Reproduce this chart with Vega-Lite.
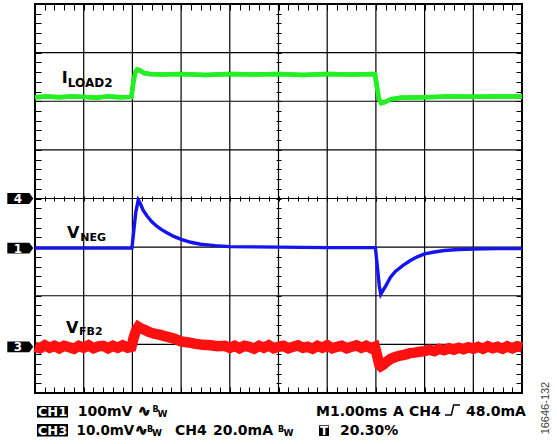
{
  "$schema": "https://vega.github.io/schema/vega-lite/v6.json",
  "width": 487,
  "height": 389,
  "autosize": {"type": "none"},
  "padding": {"left": 35, "top": 4, "right": 35, "bottom": 51},
  "background": "white",
  "config": {
    "view": {"stroke": "#000", "strokeWidth": 2},
    "text": {"font": "DejaVu Sans", "fontWeight": "bold", "color": "#000"},
    "rule": {"color": "#000", "strokeWidth": 1.2},
    "axis": {"title": null}
  },
  "datasets": {
    "iload": [
      {"t": 0, "v": 6.08}, {"t": 0.25, "v": 6.1}, {"t": 0.5, "v": 6.08}, {"t": 0.75, "v": 6.1}, {"t": 1, "v": 6.09},
      {"t": 1.25, "v": 6.07}, {"t": 1.5, "v": 6.1}, {"t": 1.75, "v": 6.08}, {"t": 1.98, "v": 6.09}, {"t": 2.02, "v": 6.4},
      {"t": 2.06, "v": 6.6}, {"t": 2.1, "v": 6.65}, {"t": 2.16, "v": 6.63}, {"t": 2.24, "v": 6.58}, {"t": 2.35, "v": 6.56},
      {"t": 2.6, "v": 6.55}, {"t": 3, "v": 6.56}, {"t": 3.5, "v": 6.54}, {"t": 4, "v": 6.56}, {"t": 4.5, "v": 6.55},
      {"t": 5, "v": 6.56}, {"t": 5.5, "v": 6.54}, {"t": 6, "v": 6.56}, {"t": 6.5, "v": 6.55}, {"t": 6.98, "v": 6.56},
      {"t": 7.02, "v": 6.3}, {"t": 7.06, "v": 6.05}, {"t": 7.11, "v": 5.96}, {"t": 7.18, "v": 5.98}, {"t": 7.3, "v": 6.04},
      {"t": 7.5, "v": 6.07}, {"t": 8, "v": 6.08}, {"t": 8.5, "v": 6.1}, {"t": 9, "v": 6.09}, {"t": 9.5, "v": 6.1}, {"t": 10, "v": 6.1}
    ],
    "vneg": [
      {"t": 0, "v": 2.98}, {"t": 1, "v": 2.98}, {"t": 1.99, "v": 2.98}, {"t": 2.03, "v": 3.35}, {"t": 2.07, "v": 3.72},
      {"t": 2.12, "v": 3.97}, {"t": 2.16, "v": 3.9}, {"t": 2.22, "v": 3.76}, {"t": 2.3, "v": 3.64}, {"t": 2.4, "v": 3.52},
      {"t": 2.5, "v": 3.43}, {"t": 2.6, "v": 3.36}, {"t": 2.7, "v": 3.3}, {"t": 2.85, "v": 3.22}, {"t": 3.0, "v": 3.16},
      {"t": 3.2, "v": 3.1}, {"t": 3.4, "v": 3.06}, {"t": 3.7, "v": 3.03}, {"t": 4.0, "v": 3.01}, {"t": 5, "v": 3.0},
      {"t": 6, "v": 2.99}, {"t": 6.99, "v": 2.99}, {"t": 7.03, "v": 2.6}, {"t": 7.07, "v": 2.2}, {"t": 7.1, "v": 2.03},
      {"t": 7.14, "v": 2.1}, {"t": 7.2, "v": 2.2}, {"t": 7.3, "v": 2.38}, {"t": 7.4, "v": 2.5}, {"t": 7.55, "v": 2.62},
      {"t": 7.7, "v": 2.72}, {"t": 7.85, "v": 2.8}, {"t": 8.0, "v": 2.86}, {"t": 8.2, "v": 2.9}, {"t": 8.4, "v": 2.93},
      {"t": 8.7, "v": 2.95}, {"t": 9.0, "v": 2.96}, {"t": 9.5, "v": 2.97}, {"t": 10, "v": 2.97}
    ],
    "vfb": [
      {"t": 0.0, "v": 0.95}, {"t": 0.1, "v": 0.92}, {"t": 0.2, "v": 0.98}, {"t": 0.3, "v": 0.93}, {"t": 0.4, "v": 0.97},
      {"t": 0.5, "v": 0.92}, {"t": 0.6, "v": 0.97}, {"t": 0.7, "v": 0.94}, {"t": 0.8, "v": 0.91}, {"t": 0.9, "v": 0.97},
      {"t": 1.0, "v": 0.93}, {"t": 1.1, "v": 0.98}, {"t": 1.2, "v": 0.92}, {"t": 1.3, "v": 0.96}, {"t": 1.4, "v": 0.97},
      {"t": 1.5, "v": 0.92}, {"t": 1.6, "v": 0.97}, {"t": 1.7, "v": 0.93}, {"t": 1.8, "v": 0.98}, {"t": 1.9, "v": 0.93},
      {"t": 1.98, "v": 0.95}, {"t": 2.03, "v": 1.15}, {"t": 2.08, "v": 1.3}, {"t": 2.12, "v": 1.36}, {"t": 2.17, "v": 1.33},
      {"t": 2.25, "v": 1.3}, {"t": 2.35, "v": 1.25}, {"t": 2.45, "v": 1.22}, {"t": 2.55, "v": 1.2}, {"t": 2.7, "v": 1.16},
      {"t": 2.85, "v": 1.12}, {"t": 3.0, "v": 1.06}, {"t": 3.15, "v": 1.04}, {"t": 3.3, "v": 1.01}, {"t": 3.45, "v": 0.99},
      {"t": 3.6, "v": 0.98}, {"t": 3.75, "v": 0.96}, {"t": 3.9, "v": 0.97}, {"t": 4.0, "v": 0.93}, {"t": 4.1, "v": 0.97},
      {"t": 4.2, "v": 0.92}, {"t": 4.3, "v": 0.97}, {"t": 4.4, "v": 0.95}, {"t": 4.5, "v": 0.91}, {"t": 4.6, "v": 0.97},
      {"t": 4.7, "v": 0.93}, {"t": 4.8, "v": 0.98}, {"t": 4.9, "v": 0.92}, {"t": 5.0, "v": 0.95}, {"t": 5.1, "v": 0.97},
      {"t": 5.2, "v": 0.92}, {"t": 5.3, "v": 0.95}, {"t": 5.4, "v": 0.98}, {"t": 5.5, "v": 0.93}, {"t": 5.6, "v": 0.95},
      {"t": 5.7, "v": 0.91}, {"t": 5.8, "v": 0.97}, {"t": 5.9, "v": 0.93}, {"t": 6.0, "v": 0.98}, {"t": 6.1, "v": 0.92},
      {"t": 6.2, "v": 0.95}, {"t": 6.3, "v": 0.97}, {"t": 6.4, "v": 0.92}, {"t": 6.5, "v": 0.95}, {"t": 6.6, "v": 0.98},
      {"t": 6.7, "v": 0.93}, {"t": 6.8, "v": 0.97}, {"t": 6.9, "v": 0.92}, {"t": 6.98, "v": 0.95}, {"t": 7.03, "v": 0.75},
      {"t": 7.07, "v": 0.58}, {"t": 7.1, "v": 0.55}, {"t": 7.15, "v": 0.58}, {"t": 7.22, "v": 0.64}, {"t": 7.3, "v": 0.7},
      {"t": 7.4, "v": 0.74}, {"t": 7.5, "v": 0.77}, {"t": 7.6, "v": 0.79}, {"t": 7.7, "v": 0.82}, {"t": 7.8, "v": 0.83},
      {"t": 7.9, "v": 0.85}, {"t": 8.0, "v": 0.86}, {"t": 8.1, "v": 0.89}, {"t": 8.2, "v": 0.86}, {"t": 8.3, "v": 0.91},
      {"t": 8.4, "v": 0.88}, {"t": 8.5, "v": 0.92}, {"t": 8.6, "v": 0.89}, {"t": 8.7, "v": 0.93}, {"t": 8.8, "v": 0.9},
      {"t": 8.9, "v": 0.94}, {"t": 9.0, "v": 0.91}, {"t": 9.1, "v": 0.95}, {"t": 9.2, "v": 0.91}, {"t": 9.3, "v": 0.96},
      {"t": 9.4, "v": 0.92}, {"t": 9.5, "v": 0.95}, {"t": 9.6, "v": 0.91}, {"t": 9.7, "v": 0.96}, {"t": 9.8, "v": 0.92},
      {"t": 9.9, "v": 0.96}, {"t": 10.0, "v": 0.94}
    ],
    "channels": [
      {"ch": "4", "level": 4.0},
      {"ch": "1", "level": 2.98},
      {"ch": "3", "level": 0.95}
    ]
  },
  "data": {"values": [{}]},
  "resolve": {"axis": {"x": "independent", "y": "independent"}},
  "layer": [
    {
      "data": {"name": "iload"},
      "mark": {"type": "line", "color": "#22f022", "strokeWidth": 4.5},
      "encoding": {
        "x": {"field": "t", "type": "quantitative", "scale": {"domain": [0, 10], "nice": false, "zero": false},
          "axis": {"values": [0,0.2,0.4,0.6,0.8,1,1.2,1.4,1.6,1.8,2,2.2,2.4,2.6,2.8,3,3.2,3.4,3.6,3.8,4,4.2,4.4,4.6,4.8,5,5.2,5.4,5.6,5.8,6,6.2,6.4,6.6,6.8,7,7.2,7.4,7.6,7.8,8,8.2,8.4,8.6,8.8,9,9.2,9.4,9.6,9.8,10],
            "grid": true, "gridColor": "#000", "gridWidth": 1, "gridOpacity": 1, "gridDash": [6, 186, 5, 186, 6],
            "ticks": false, "labels": false, "domain": false, "title": null}},
        "y": {"field": "v", "type": "quantitative", "scale": {"domain": [0, 8], "nice": false, "zero": false},
          "axis": {"values": [0,0.2,0.4,0.6,0.8,1,1.2,1.4,1.6,1.8,2,2.2,2.4,2.6,2.8,3,3.2,3.4,3.6,3.8,4,4.2,4.4,4.6,4.8,5,5.2,5.4,5.6,5.8,6,6.2,6.4,6.6,6.8,7,7.2,7.4,7.6,7.8,8],
            "grid": true, "gridColor": "#000", "gridWidth": 1, "gridOpacity": 1, "gridDash": [6, 235, 5, 235, 6],
            "ticks": false, "labels": false, "domain": false, "title": null}}
      }
    },
    {"mark": "rule", "encoding": {"x": {"datum": 1, "axis": null}}},
    {"mark": "rule", "encoding": {"x": {"datum": 2, "axis": null}}},
    {"mark": "rule", "encoding": {"x": {"datum": 3, "axis": null}}},
    {"mark": "rule", "encoding": {"x": {"datum": 4, "axis": null}}},
    {"mark": "rule", "encoding": {"x": {"datum": 5, "axis": null}}},
    {"mark": "rule", "encoding": {"x": {"datum": 6, "axis": null}}},
    {"mark": "rule", "encoding": {"x": {"datum": 7, "axis": null}}},
    {"mark": "rule", "encoding": {"x": {"datum": 8, "axis": null}}},
    {"mark": "rule", "encoding": {"x": {"datum": 9, "axis": null}}},
    {"mark": "rule", "encoding": {"y": {"datum": 1, "axis": null}}},
    {"mark": "rule", "encoding": {"y": {"datum": 2, "axis": null}}},
    {"mark": "rule", "encoding": {"y": {"datum": 3, "axis": null}}},
    {"mark": "rule", "encoding": {"y": {"datum": 4, "axis": null}}},
    {"mark": "rule", "encoding": {"y": {"datum": 5, "axis": null}}},
    {"mark": "rule", "encoding": {"y": {"datum": 6, "axis": null}}},
    {"mark": "rule", "encoding": {"y": {"datum": 7, "axis": null}}},
    {
      "data": {"name": "iload"},
      "mark": {"type": "line", "color": "#22f022", "strokeWidth": 4.5},
      "encoding": {
        "x": {"field": "t", "type": "quantitative", "axis": null},
        "y": {"field": "v", "type": "quantitative", "axis": null}
      }
    },
    {
      "data": {"name": "vneg"},
      "mark": {"type": "line", "color": "#1414ee", "strokeWidth": 3.4},
      "encoding": {
        "x": {"field": "t", "type": "quantitative", "axis": null},
        "y": {"field": "v", "type": "quantitative", "axis": null}
      }
    },
    {
      "data": {"name": "vfb"},
      "mark": {"type": "line", "color": "#ff1010", "strokeWidth": 10.5},
      "encoding": {
        "x": {"field": "t", "type": "quantitative", "axis": null},
        "y": {"field": "v", "type": "quantitative", "axis": null}
      }
    },
    {
      "data": {"name": "channels"},
      "mark": {"type": "point", "shape": "M-1,-0.415L0.69,-0.415L1,0L0.69,0.415L-1,0.415Z", "size": 676, "filled": true, "color": "#000", "opacity": 1, "strokeWidth": 0},
      "encoding": {
        "x": {"datum": -0.302, "axis": null},
        "y": {"field": "level", "type": "quantitative", "axis": null}
      }
    },
    {
      "data": {"name": "channels"},
      "mark": {"type": "text", "color": "#fff", "fontSize": 12, "align": "center", "baseline": "middle", "dy": 0.5},
      "encoding": {
        "x": {"datum": -0.349, "axis": null},
        "y": {"field": "level", "type": "quantitative", "axis": null},
        "text": {"field": "ch"}
      }
    },
    {"mark": {"type": "text", "text": "I", "fontSize": 16, "align": "left", "baseline": "alphabetic"},
     "encoding": {"x": {"datum": 0.55, "axis": null}, "y": {"datum": 6.38, "axis": null}}},
    {"mark": {"type": "text", "text": "LOAD2", "fontSize": 12, "align": "left", "baseline": "alphabetic"},
     "encoding": {"x": {"datum": 0.675, "axis": null}, "y": {"datum": 6.3, "axis": null}}},
    {"mark": {"type": "text", "text": "V", "fontSize": 16, "align": "left", "baseline": "alphabetic"},
     "encoding": {"x": {"datum": 0.657, "axis": null}, "y": {"datum": 3.18, "axis": null}}},
    {"mark": {"type": "text", "text": "NEG", "fontSize": 11, "align": "left", "baseline": "alphabetic"},
     "encoding": {"x": {"datum": 0.93, "axis": null}, "y": {"datum": 3.136, "axis": null}}},
    {"mark": {"type": "text", "text": "V", "fontSize": 16, "align": "left", "baseline": "alphabetic"},
     "encoding": {"x": {"datum": 0.637, "axis": null}, "y": {"datum": 1.244, "axis": null}}},
    {"mark": {"type": "text", "text": "FB2", "fontSize": 11, "align": "left", "baseline": "alphabetic"},
     "encoding": {"x": {"datum": 0.905, "axis": null}, "y": {"datum": 1.193, "axis": null}}},

    {"mark": {"type": "rect", "color": "#000"},
     "encoding": {"x": {"datum": 0.041, "axis": null}, "x2": {"datum": 0.678}, "y": {"datum": -0.267, "axis": null}, "y2": {"datum": -0.504}}},
    {"mark": {"type": "text", "text": "CH1", "fontSize": 13, "color": "#fff", "align": "center", "baseline": "alphabetic"},
     "encoding": {"x": {"datum": 0.359, "axis": null}, "y": {"datum": -0.473, "axis": null}}},
    {"mark": {"type": "text", "text": "100mV", "fontSize": 14, "align": "left", "baseline": "alphabetic"},
     "encoding": {"x": {"datum": 0.877, "axis": null}, "y": {"datum": -0.473, "axis": null}}},
    {"mark": {"type": "text", "text": "∿", "fontSize": 15, "align": "left", "baseline": "alphabetic", "stroke": "#000", "strokeWidth": 0.9},
     "encoding": {"x": {"datum": 2.115, "axis": null}, "y": {"datum": -0.473, "axis": null}}},
    {"mark": {"type": "text", "text": "B", "fontSize": 8, "align": "left", "baseline": "alphabetic"},
     "encoding": {"x": {"datum": 2.413, "axis": null}, "y": {"datum": -0.401, "axis": null}}},
    {"mark": {"type": "text", "text": "W", "fontSize": 9, "align": "left", "baseline": "alphabetic"},
     "encoding": {"x": {"datum": 2.515, "axis": null}, "y": {"datum": -0.494, "axis": null}}},
    {"mark": {"type": "text", "text": "M1.00ms", "fontSize": 14, "align": "left", "baseline": "alphabetic"},
     "encoding": {"x": {"datum": 5.77, "axis": null}, "y": {"datum": -0.473, "axis": null}}},
    {"mark": {"type": "text", "text": "A", "fontSize": 14, "align": "left", "baseline": "alphabetic"},
     "encoding": {"x": {"datum": 7.351, "axis": null}, "y": {"datum": -0.473, "axis": null}}},
    {"mark": {"type": "text", "text": "CH4", "fontSize": 14, "align": "left", "baseline": "alphabetic"},
     "encoding": {"x": {"datum": 7.68, "axis": null}, "y": {"datum": -0.473, "axis": null}}},
    {"mark": {"type": "point", "shape": "M-1,0.67L-0.15,0.67L0.15,-0.67L1,-0.67", "size": 225, "filled": false, "color": "#000", "strokeWidth": 1.5, "opacity": 1},
     "encoding": {"x": {"datum": 8.573, "axis": null}, "y": {"datum": -0.35, "axis": null}}},
    {"mark": {"type": "text", "text": "48.0mA", "fontSize": 14, "align": "left", "baseline": "alphabetic"},
     "encoding": {"x": {"datum": 8.85, "axis": null}, "y": {"datum": -0.473, "axis": null}}},

    {"mark": {"type": "rect", "color": "#000"},
     "encoding": {"x": {"datum": 0.041, "axis": null}, "x2": {"datum": 0.678}, "y": {"datum": -0.638, "axis": null}, "y2": {"datum": -0.895}}},
    {"mark": {"type": "text", "text": "CH3", "fontSize": 13, "color": "#fff", "align": "center", "baseline": "alphabetic"},
     "encoding": {"x": {"datum": 0.359, "axis": null}, "y": {"datum": -0.87, "axis": null}}},
    {"mark": {"type": "text", "text": "10.0mV", "fontSize": 13.5, "align": "left", "baseline": "alphabetic"},
     "encoding": {"x": {"datum": 0.852, "axis": null}, "y": {"datum": -0.87, "axis": null}}},
    {"mark": {"type": "text", "text": "∿", "fontSize": 15, "align": "left", "baseline": "alphabetic", "stroke": "#000", "strokeWidth": 0.9},
     "encoding": {"x": {"datum": 2.053, "axis": null}, "y": {"datum": -0.87, "axis": null}}},
    {"mark": {"type": "text", "text": "B", "fontSize": 8, "align": "left", "baseline": "alphabetic"},
     "encoding": {"x": {"datum": 2.3, "axis": null}, "y": {"datum": -0.792, "axis": null}}},
    {"mark": {"type": "text", "text": "W", "fontSize": 9, "align": "left", "baseline": "alphabetic"},
     "encoding": {"x": {"datum": 2.402, "axis": null}, "y": {"datum": -0.884, "axis": null}}},
    {"mark": {"type": "text", "text": "CH4", "fontSize": 14, "align": "left", "baseline": "alphabetic"},
     "encoding": {"x": {"datum": 2.875, "axis": null}, "y": {"datum": -0.87, "axis": null}}},
    {"mark": {"type": "text", "text": "20.0mA", "fontSize": 14, "align": "left", "baseline": "alphabetic"},
     "encoding": {"x": {"datum": 3.655, "axis": null}, "y": {"datum": -0.87, "axis": null}}},
    {"mark": {"type": "text", "text": "B", "fontSize": 8, "align": "left", "baseline": "alphabetic"},
     "encoding": {"x": {"datum": 4.99, "axis": null}, "y": {"datum": -0.792, "axis": null}}},
    {"mark": {"type": "text", "text": "W", "fontSize": 9, "align": "left", "baseline": "alphabetic"},
     "encoding": {"x": {"datum": 5.103, "axis": null}, "y": {"datum": -0.884, "axis": null}}},
    {"mark": {"type": "rect", "color": "#000"},
     "encoding": {"x": {"datum": 5.832, "axis": null}, "x2": {"datum": 6.037}, "y": {"datum": -0.664, "axis": null}, "y2": {"datum": -0.884}}},
    {"mark": {"type": "text", "text": "T", "fontSize": 12, "color": "#fff", "align": "center", "baseline": "alphabetic"},
     "encoding": {"x": {"datum": 5.934, "axis": null}, "y": {"datum": -0.87, "axis": null}}},
    {"mark": {"type": "text", "text": "20.30%", "fontSize": 14, "align": "left", "baseline": "alphabetic"},
     "encoding": {"x": {"datum": 6.263, "axis": null}, "y": {"datum": -0.87, "axis": null}}},
    {"mark": {"type": "text", "text": "16646-132", "font": "Liberation Sans", "fontWeight": "normal", "fontSize": 11, "color": "#444", "angle": 270, "align": "center", "baseline": "middle"},
     "encoding": {"x": {"datum": 10.49, "axis": null}, "y": {"datum": -0.31, "axis": null}}}
  ]
}
